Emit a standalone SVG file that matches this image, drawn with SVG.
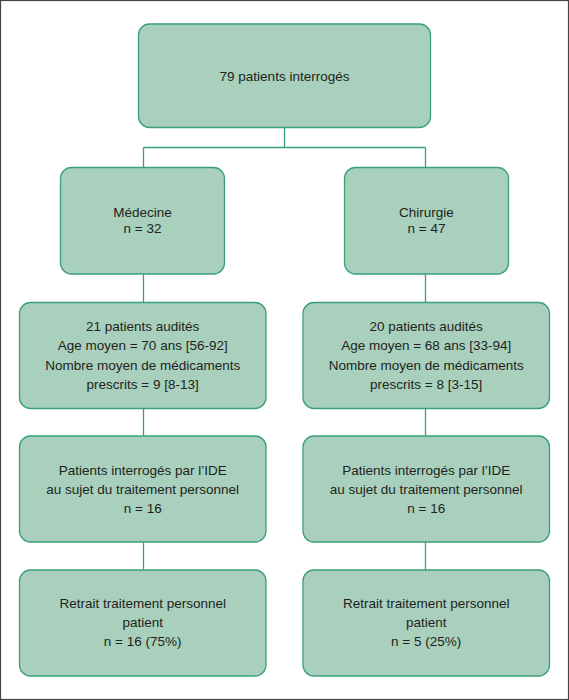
<svg xmlns="http://www.w3.org/2000/svg" width="569" height="700" viewBox="0 0 569 700">
<style>
.box{fill:#a8d0bc;stroke:#3aa07a;stroke-width:1.3}
.ln{fill:none;stroke:#3aa07a;stroke-width:1.3}
text{font-family:"Liberation Sans",Arial,sans-serif;font-size:13.5px;fill:#231f20;text-anchor:middle}
</style>
<rect x="0.5" y="0.5" width="568" height="699" fill="#fff" stroke="#444" stroke-width="1.2"/>
<g id="connectors">
<path class="ln" d="M284.5 127.5V147.5M143.5 147.5H425.5M143.5 147.5V167.5M425.5 147.5V167.5"/>
<path class="ln" d="M143.5 274V302.5M143.5 408.5V436M143.5 542V570"/>
<path class="ln" d="M425.5 274V302.5M425.5 408.5V436M425.5 542V570"/>
</g>
<g id="top"><rect class="box" x="138.5" y="24" width="292" height="103.5" rx="11"/><text x="284.5" y="81">79 patients interrogés</text></g>
<g id="medecine"><rect class="box" x="60.5" y="167.5" width="164" height="106.5" rx="11"/><text x="142.5" y="217">Médecine</text><text x="142.5" y="233">n = 32</text></g>
<g id="chirurgie"><rect class="box" x="344.5" y="167.5" width="164" height="106.5" rx="11"/><text x="426.5" y="217">Chirurgie</text><text x="426.5" y="233">n = 47</text></g>
<g id="med-audit"><rect class="box" x="19.5" y="302.5" width="246.5" height="106" rx="11"/><text x="142.7" y="330.5">21 patients audités</text><text x="142.7" y="350">Age moyen = 70 ans [56-92]</text><text x="142.7" y="369.5">Nombre moyen de médicaments</text><text x="142.7" y="389">prescrits = 9 [8-13]</text></g>
<g id="chir-audit"><rect class="box" x="303" y="302.5" width="246.5" height="106" rx="11"/><text x="426.2" y="330.5">20 patients audités</text><text x="426.2" y="350">Age moyen = 68 ans [33-94]</text><text x="426.2" y="369.5">Nombre moyen de médicaments</text><text x="426.2" y="389">prescrits = 8 [3-15]</text></g>
<g id="med-ide"><rect class="box" x="19.5" y="436" width="246.5" height="106" rx="11"/><text x="142.7" y="475">Patients interrogés par l’IDE</text><text x="142.7" y="494">au sujet du traitement personnel</text><text x="142.7" y="513">n = 16</text></g>
<g id="chir-ide"><rect class="box" x="303" y="436" width="246.5" height="106" rx="11"/><text x="426.2" y="475">Patients interrogés par l’IDE</text><text x="426.2" y="494">au sujet du traitement personnel</text><text x="426.2" y="513">n = 16</text></g>
<g id="med-retrait"><rect class="box" x="19.5" y="570" width="246.5" height="106" rx="11"/><text x="142.7" y="608">Retrait traitement personnel</text><text x="142.7" y="627">patient</text><text x="142.7" y="646">n = 16 (75%)</text></g>
<g id="chir-retrait"><rect class="box" x="303" y="570" width="246.5" height="106" rx="11"/><text x="426.2" y="608">Retrait traitement personnel</text><text x="426.2" y="627">patient</text><text x="426.2" y="646">n = 5 (25%)</text></g>
</svg>
